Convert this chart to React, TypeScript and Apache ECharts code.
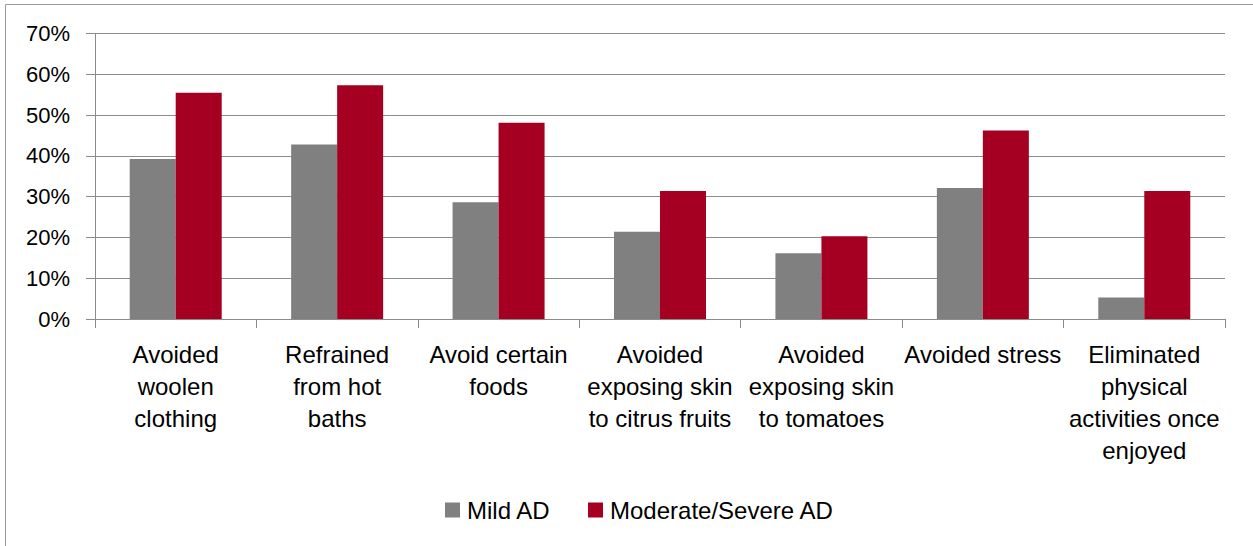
import React, { useEffect, useRef } from "react";
import * as echarts from "echarts";

const categories = [
  "Avoided\nwoolen\nclothing",
  "Refrained\nfrom hot\nbaths",
  "Avoid certain\nfoods",
  "Avoided\nexposing skin\nto citrus fruits",
  "Avoided\nexposing skin\nto tomatoes",
  "Avoided stress",
  "Eliminated\nphysical\nactivities once\nenjoyed",
];
const mildAD = [0.392, 0.428, 0.286, 0.214, 0.161, 0.321, 0.053];
const moderateSevereAD = [0.555, 0.573, 0.481, 0.314, 0.203, 0.462, 0.314];
const yTicks = [0, 0.1, 0.2, 0.3, 0.4, 0.5, 0.6, 0.7];

const FONT = "'Liberation Sans', Arial, sans-serif";
const GRID_COLOR = "#8c8c8c";

export default function App() {
  const ref = useRef<HTMLDivElement>(null);
  useEffect(() => {
    if (!ref.current) return;
    const chart = echarts.init(ref.current, null, { renderer: "svg" });
    chart.setOption({
      animation: false,
      backgroundColor: "#ffffff",
      textStyle: { fontFamily: FONT, color: "#000" },
      graphic: [
        {
          type: "rect",
          shape: { x: 5.5, y: 4.5, width: 1260, height: 560 },
          style: { fill: "none", stroke: "#9a9a9a", lineWidth: 1 },
          silent: true,
        },
      ],
      grid: { left: 95, right: 28, top: 33.5, bottom: 227, containLabel: false },
      legend: {
        left: 440,
        top: 493,
        itemWidth: 15,
        itemHeight: 15,
        itemGap: 37,
        textStyle: { fontFamily: FONT, fontSize: 24, color: "#000", padding: [0, 0, 0, 2] },
        icon: "rect",
        data: ["Mild AD", "Moderate/Severe AD"],
      },
      xAxis: {
        type: "category",
        data: categories,
        axisLine: { show: true, lineStyle: { color: GRID_COLOR, width: 1 } },
        axisTick: { show: true, length: 9, lineStyle: { color: GRID_COLOR } },
        axisLabel: {
          interval: 0,
          fontFamily: FONT,
          fontSize: 24,
          lineHeight: 32,
          color: "#000",
          margin: 19,
          align: "center",
        },
      },
      yAxis: {
        type: "value",
        min: 0,
        max: 0.7,
        interval: 0.1,
        axisLine: { show: true, lineStyle: { color: GRID_COLOR, width: 1 } },
        axisTick: { show: true, length: 9, lineStyle: { color: GRID_COLOR } },
        splitLine: { show: true, lineStyle: { color: GRID_COLOR, width: 1 } },
        axisLabel: {
          fontFamily: FONT,
          fontSize: 22,
          color: "#000",
          margin: 25,
          formatter: (v: number) => {
            const t = yTicks.find((x) => Math.abs(x - v) < 1e-9);
            return Math.round((t ?? v) * 100) + "%";
          },
        },
      },
      series: [
        {
          name: "Mild AD",
          type: "bar",
          data: mildAD,
          barWidth: 46,
          barGap: "0%",
          itemStyle: { color: "#808080" },
        },
        {
          name: "Moderate/Severe AD",
          type: "bar",
          data: moderateSevereAD,
          barWidth: 46,
          barGap: "0%",
          itemStyle: { color: "#A50021" },
        },
      ],
    });
    return () => chart.dispose();
  }, []);
  return (
    <div
      ref={ref}
      style={{ position: "fixed", left: 0, top: 0, width: 1253, height: 546 }}
    />
  );
}
